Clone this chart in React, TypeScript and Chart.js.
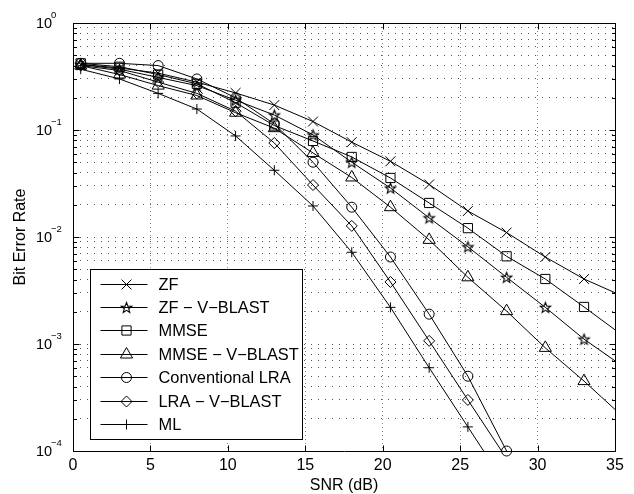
import React, { useEffect, useRef } from 'react';
import { Chart, registerables } from 'chart.js';
import { drawPoint } from 'chart.js/helpers';

Chart.register(...registerables);

// ---------- data ----------
const snrDb = [0.5, 3, 5.5, 8, 10.5, 13, 15.5, 18, 20.5, 23, 25.5, 28, 30.5, 33, 35.5];

const berZF = [0.41, 0.38, 0.34, 0.28, 0.222, 0.171, 0.12, 0.077, 0.051, 0.031, 0.0175, 0.011, 0.0065, 0.00405, 0.0028];
const berZFVBLAST = [0.41, 0.37, 0.31, 0.26, 0.19, 0.138, 0.09, 0.05, 0.0287, 0.0151, 0.0081, 0.0042, 0.0022, 0.00111, 0.00062];
const berMMSE = [0.42, 0.39, 0.33, 0.27, 0.18, 0.11, 0.079, 0.056, 0.0356, 0.0208, 0.0121, 0.0066, 0.00405, 0.00222, 0.0012];
const berMMSEVBLAST = [0.4, 0.33, 0.26, 0.21, 0.145, 0.104, 0.061, 0.036, 0.019, 0.0094, 0.0042, 0.00203, 0.00092, 0.00045, 0.00021];
const berLRA = [0.42, 0.42, 0.4, 0.3, 0.2, 0.114, 0.05, 0.019, 0.0065, 0.0019, 0.0005, 0.0001];
const berLRAVBLAST = [0.4, 0.36, 0.28, 0.22, 0.15, 0.0756, 0.0306, 0.0127, 0.0038, 0.00107, 0.0003, 0.000085];
const berML = [0.37, 0.3, 0.22, 0.157, 0.088, 0.042, 0.0195, 0.0072, 0.0022, 0.0006, 0.000168, 0.000047];

const seriesLabels = ['ZF', 'ZF \u2212 V\u2212BLAST', 'MMSE', 'MMSE \u2212 V\u2212BLAST', 'Conventional LRA', 'LRA \u2212 V\u2212BLAST', 'ML'];
const xTickValues = [0, 5, 10, 15, 20, 25, 30, 35];
const yDecades = [0, -1, -2, -3, -4];
const xTitle = 'SNR (dB)';
const yTitle = 'Bit Error Rate';

const FONT = "'Liberation Sans', Arial, Helvetica, sans-serif";

function makeStar(r: number): HTMLCanvasElement {
  const size = Math.ceil(r * 2 + 4);
  const c = document.createElement('canvas');
  c.width = size;
  c.height = size;
  const ctx = c.getContext('2d')!;
  ctx.strokeStyle = '#000';
  ctx.lineWidth = 1.1;
  ctx.beginPath();
  for (let i = 0; i < 10; i++) {
    const a = -Math.PI / 2 + (i * Math.PI) / 5;
    const rr = i % 2 === 0 ? r : r * 0.42;
    ctx.lineTo(size / 2 + rr * Math.cos(a), size / 2 + 0.5 + rr * Math.sin(a));
  }
  ctx.closePath();
  ctx.stroke();
  return c;
}

function toPoints(ys: number[]) {
  return ys.map((y, i) => ({ x: snrDb[i], y }));
}

const axesPlugin = {
  id: 'matlabAxes',
  afterDatasetsDraw(chart: any) {
    const ctx = chart.ctx as CanvasRenderingContext2D;
    const { left, right, top, bottom } = chart.chartArea;
    const xs = chart.scales.x;
    const ys = chart.scales.y;
    ctx.save();
    ctx.strokeStyle = '#000';
    ctx.lineWidth = 1;
    const L = Math.round(left) + 0.5, R = Math.round(right) + 0.5, T = Math.round(top) + 0.5, B = Math.round(bottom) + 0.5;
    ctx.beginPath();
    ctx.rect(L, T, R - L, B - T);
    xTickValues.forEach((v) => {
      const px = Math.round(xs.getPixelForValue(v)) + 0.5;
      ctx.moveTo(px, B); ctx.lineTo(px, B - 6);
      ctx.moveTo(px, T); ctx.lineTo(px, T + 6);
    });
    for (let e = -4; e <= 0; e++) {
      for (let k = 1; k <= 9; k++) {
        const v = k * Math.pow(10, e);
        if (v > 1) break;
        const py = Math.round(ys.getPixelForValue(v)) + 0.5;
        const len = k === 1 ? 6 : 3.5;
        ctx.moveTo(L, py); ctx.lineTo(L + len, py);
        ctx.moveTo(R, py); ctx.lineTo(R - len, py);
      }
    }
    ctx.stroke();

    ctx.fillStyle = '#000';
    ctx.font = `16px ${FONT}`;
    ctx.textAlign = 'center';
    ctx.textBaseline = 'middle';
    xTickValues.forEach((v) => {
      ctx.fillText(String(v), xs.getPixelForValue(v), bottom + 15);
    });
    yDecades.forEach((e) => {
      const py = ys.getPixelForValue(Math.pow(10, e));
      ctx.textAlign = 'left';
      ctx.font = `14.5px ${FONT}`;
      ctx.fillText('10', 36, py + 1);
      ctx.font = `9.5px ${FONT}`;
      ctx.fillText(e === 0 ? '0' : '\u2212' + String(-e), 51, py - 8);
    });
    ctx.font = `16px ${FONT}`;
    ctx.textAlign = 'center';
    ctx.fillText(xTitle, (left + right) / 2, bottom + 35);
    ctx.save();
    ctx.translate(21, (top + bottom) / 2);
    ctx.rotate(-Math.PI / 2);
    ctx.fillText(yTitle, 0, 0);
    ctx.restore();
    ctx.restore();
  },
  afterDraw(chart: any) {
    const ctx = chart.ctx as CanvasRenderingContext2D;
    const { left, bottom } = chart.chartArea;
    const bx = Math.round(left + 17) + 0.5;
    const bw = 212;
    const bh = 170;
    const by = Math.round(bottom - 12 - bh) + 0.5;
    ctx.save();
    ctx.fillStyle = '#fff';
    ctx.fillRect(bx, by, bw, bh);
    ctx.strokeStyle = '#000';
    ctx.lineWidth = 1;
    ctx.strokeRect(bx, by, bw, bh);
    chart.data.datasets.forEach((ds: any, i: number) => {
      const y = Math.round(by + 14 + i * 23.4) + 0.5;
      ctx.strokeStyle = '#000';
      ctx.lineWidth = 1;
      ctx.beginPath();
      ctx.moveTo(bx + 10, y);
      ctx.lineTo(bx + 57, y);
      ctx.stroke();
      ctx.fillStyle = 'rgba(0,0,0,0)';
      drawPoint(ctx, { pointStyle: ds.pointStyle, radius: ds.pointRadius, borderWidth: 1, rotation: 0 } as any, bx + 36, y);
      ctx.fillStyle = '#000';
      ctx.font = `16.4px ${FONT}`;
      ctx.textAlign = 'left';
      ctx.textBaseline = 'middle';
      ctx.fillText(ds.label, bx + 68, y + 1);
    });
    ctx.restore();
  },
};

export default function App() {
  const ref = useRef<HTMLCanvasElement | null>(null);
  useEffect(() => {
    if (!ref.current) return;
    const star = makeStar(5.5);
    const common = {
      borderColor: '#000',
      borderWidth: 1,
      pointBorderColor: '#000',
      pointBackgroundColor: 'rgba(0,0,0,0)',
      pointBorderWidth: 1,
      tension: 0,
      fill: false,
    };
    const chart = new Chart(ref.current, {
      type: 'line',
      data: {
        datasets: [
          { ...common, label: seriesLabels[0], data: toPoints(berZF), pointStyle: 'crossRot', pointRadius: 7 },
          { ...common, label: seriesLabels[1], data: toPoints(berZFVBLAST), pointStyle: star as any, pointRadius: 6 },
          { ...common, label: seriesLabels[2], data: toPoints(berMMSE), pointStyle: 'rect', pointRadius: 6.5 },
          { ...common, label: seriesLabels[3], data: toPoints(berMMSEVBLAST), pointStyle: 'triangle', pointRadius: 7 },
          { ...common, label: seriesLabels[4], data: toPoints(berLRA), pointStyle: 'circle', pointRadius: 5, clip: { left: 0, top: 0, right: 0, bottom: 8 } as any },
          { ...common, label: seriesLabels[5], data: toPoints(berLRAVBLAST), pointStyle: 'rectRot', pointRadius: 5.5 },
          { ...common, label: seriesLabels[6], data: toPoints(berML), pointStyle: 'cross', pointRadius: 5 },
        ] as any,
      },
      options: {
        responsive: false,
        animation: false,
        events: [],
        layout: { padding: { left: 73, top: 23, right: 19, bottom: 43 } },
        plugins: { legend: { display: false }, tooltip: { enabled: false } },
        scales: {
          x: {
            type: 'linear',
            min: 0,
            max: 35,
            ticks: { display: false, stepSize: 5 },
            grid: { color: '#8a8a8a', drawTicks: false, lineWidth: 1 },
            border: { display: false, dash: [1, 3] },
          },
          y: {
            type: 'logarithmic',
            min: 1e-4,
            max: 1,
            ticks: { display: false },
            grid: { color: '#555', drawTicks: false, lineWidth: 1 },
            border: { display: false, dash: [1, 6] },
            afterBuildTicks: (scale: any) => {
              const t: any[] = [];
              for (let e = -4; e <= 0; e++) {
                for (let k = 1; k <= 9; k++) {
                  const v = k * Math.pow(10, e);
                  if (v > 1) break;
                  t.push({ value: v });
                }
              }
              scale.ticks = t;
            },
          },
        },
      },
      plugins: [axesPlugin],
    });
    return () => chart.destroy();
  }, []);
  return (
    <div style={{ position: 'absolute', left: 0, top: 0, width: 634, height: 494, background: '#fff' }}>
      <canvas ref={ref} width={634} height={494} style={{ display: 'block' }} />
    </div>
  );
}
